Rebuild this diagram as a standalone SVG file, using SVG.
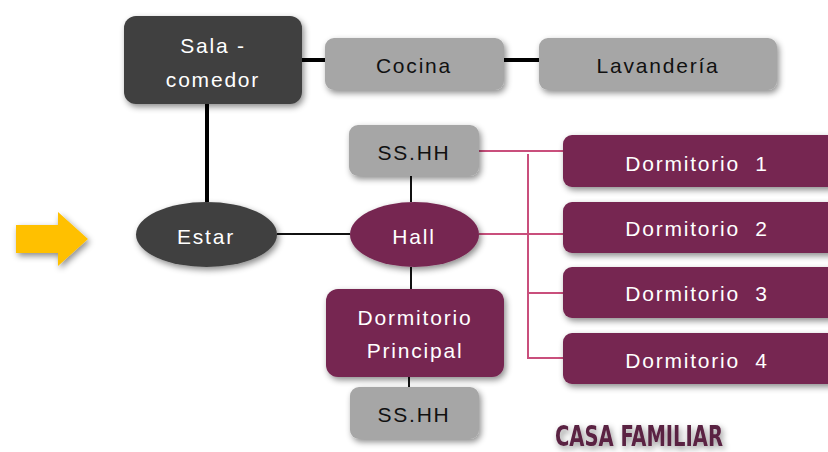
<svg xmlns="http://www.w3.org/2000/svg" width="828" height="452" viewBox="0 0 828 452">
<defs>
<filter id="sh" x="-20%" y="-30%" width="140%" height="160%">
<feDropShadow dx="2" dy="3" stdDeviation="3" flood-color="#000" flood-opacity="0.45"/>
</filter>
<style>
.dark{fill:#404040}
.gray{fill:#a6a6a6}
.purp{fill:#762651}
.t{font-family:"Liberation Sans","DejaVu Sans",sans-serif;font-size:21px;letter-spacing:1.8px;text-anchor:middle}
.w{fill:#ffffff}
.k{fill:#111111}
.thick{stroke:#000;stroke-width:4;fill:none}
.thin{stroke:#111;stroke-width:2;fill:none}
.pink{stroke:#c94f7c;stroke-width:2;fill:none}
</style>
</defs>
<rect width="828" height="452" fill="#ffffff"/>
<g id="connectors">
<line class="thick" x1="302" y1="60" x2="325" y2="60"/>
<line class="thick" x1="504" y1="60" x2="539" y2="60"/>
<line class="thick" x1="207" y1="104" x2="207" y2="202"/>
<line class="thin" x1="277" y1="234" x2="350" y2="234"/>
<line class="thin" x1="411" y1="176" x2="411" y2="202"/>
<line class="thin" x1="411" y1="267" x2="411" y2="289"/>
<line class="thin" x1="409" y1="377" x2="409" y2="388"/>
<line class="pink" x1="479" y1="151" x2="563" y2="151"/>
<line class="pink" x1="528" y1="154" x2="528" y2="358"/>
<line class="pink" x1="479" y1="234" x2="563" y2="234"/>
<line class="pink" x1="528" y1="293" x2="563" y2="293"/>
<line class="pink" x1="527" y1="358" x2="563" y2="358"/>
</g>
<g id="arrow" filter="url(#sh)">
<polygon points="16,225 58,225 58,212 88,239 58,266 58,253 16,253" fill="#ffc000"/>
</g>
<g id="sala-comedor">
<rect x="124" y="16" width="178" height="88" rx="12" class="dark" filter="url(#sh)"/>
<text class="t w" x="213" y="53">Sala -</text>
<text class="t w" x="213" y="87">comedor</text>
</g>
<g id="cocina">
<rect x="325" y="38" width="179" height="52" rx="9" class="gray" filter="url(#sh)"/>
<text class="t k" x="414" y="73">Cocina</text>
</g>
<g id="lavanderia">
<rect x="539" y="38" width="238" height="52" rx="9" class="gray" filter="url(#sh)"/>
<text class="t k" x="658" y="73">Lavandería</text>
</g>
<g id="sshh-1">
<rect x="349" y="125" width="130" height="51" rx="9" class="gray" filter="url(#sh)"/>
<text class="t k" x="414" y="160">SS.HH</text>
</g>
<g id="estar">
<ellipse cx="206.5" cy="234.5" rx="70.5" ry="32.5" class="dark" filter="url(#sh)"/>
<text class="t w" x="206" y="244">Estar</text>
</g>
<g id="hall">
<ellipse cx="414.5" cy="234.5" rx="64.5" ry="32.5" class="purp" filter="url(#sh)"/>
<text class="t w" x="414" y="244">Hall</text>
</g>
<g id="dormitorio-principal">
<rect x="326" y="289" width="178" height="88" rx="12" class="purp" filter="url(#sh)"/>
<text class="t w" x="415" y="325">Dormitorio</text>
<text class="t w" x="415" y="358">Principal</text>
</g>
<g id="sshh-2">
<rect x="350" y="387" width="129" height="52" rx="9" class="gray" filter="url(#sh)"/>
<text class="t k" x="414" y="422">SS.HH</text>
</g>
<g id="dormitorio-1">
<rect x="563" y="135" width="280" height="52" rx="9" class="purp" filter="url(#sh)"/>
<text class="t w" x="697" y="171" xml:space="preserve">Dormitorio  1</text>
</g>
<g id="dormitorio-2">
<rect x="563" y="202" width="280" height="51" rx="9" class="purp" filter="url(#sh)"/>
<text class="t w" x="697" y="236" xml:space="preserve">Dormitorio  2</text>
</g>
<g id="dormitorio-3">
<rect x="563" y="267" width="280" height="51" rx="9" class="purp" filter="url(#sh)"/>
<text class="t w" x="697" y="301" xml:space="preserve">Dormitorio  3</text>
</g>
<g id="dormitorio-4">
<rect x="563" y="333" width="280" height="51" rx="9" class="purp" filter="url(#sh)"/>
<text class="t w" x="697" y="368" xml:space="preserve">Dormitorio  4</text>
</g>
<g id="title" filter="url(#sh)">
<text x="555" y="446" textLength="168" lengthAdjust="spacingAndGlyphs" font-family="'DejaVu Sans Condensed','DejaVu Sans',sans-serif" font-weight="bold" font-size="28" fill="#5a2243">CASA FAMILIAR</text>
</g>
</svg>
